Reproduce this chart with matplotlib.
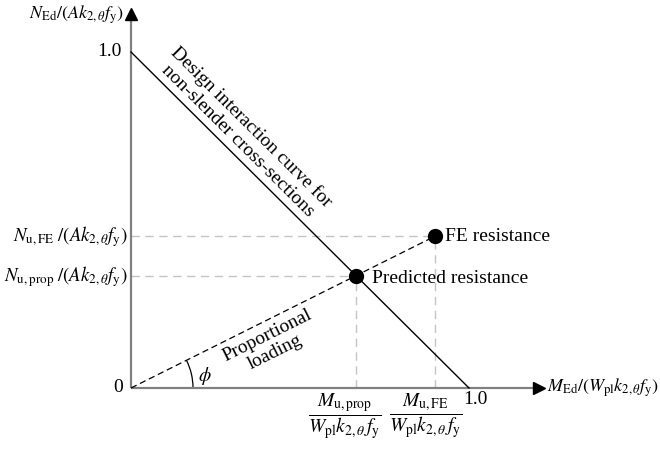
import matplotlib
matplotlib.use("Agg")
import matplotlib.pyplot as plt
from matplotlib.patches import Arc
import numpy as np

plt.rcParams['font.family'] = ['Liberation Serif', 'DejaVu Serif']
plt.rcParams['mathtext.fontset'] = 'stix'

# Data (normalised resistance values)
design_x = [0.0, 1.0]
design_y = [1.0, 0.0]
predicted = (0.665, 0.333)
fe_point = (0.90, 0.452)
labels_points = ["Predicted resistance", "FE resistance"]
y_ticks = [0.0, 1.0]
x_ticks = [1.0]

fig = plt.figure(figsize=(6.6, 4.54), dpi=100)
ax = fig.add_axes([0, 0, 1, 1])
sx, sy = 338.0, 336.0
ox, oy = 131.0, 388.0
ax.set_xlim(-ox / sx, (660 - ox) / sx)
ax.set_ylim(-(454 - oy) / sy, oy / sy)
ax.axis('off')

def px(x):
    return (x - ox) / sx

def py(y):
    return (oy - y) / sy

# Axes with arrows
ax.plot([0, 0], [0, py(18)], color='#808080', lw=1.6, solid_capstyle='butt', zorder=2)
ax.plot([0, px(536)], [0, 0], color='#808080', lw=1.6, solid_capstyle='butt', zorder=2)
ax.plot([0], [py(14)], marker='^', color='black', markersize=9, zorder=3)
ax.plot([px(539)], [0], marker='>', color='black', markersize=9, zorder=3)

# Design interaction line
ax.plot(design_x, design_y, color='black', lw=1.0, zorder=3)

# Guide lines
gcol = '#c4c4c4'
for (xx, yy) in [predicted, fe_point]:
    ax.plot([0, xx], [yy, yy], color=gcol, lw=1.0, ls=(0, (6, 4)), zorder=1)
    ax.plot([xx, xx], [0, yy], color=gcol, lw=1.0, ls=(0, (6, 4)), zorder=1)

# Proportional loading line
ax.plot([0, fe_point[0]], [0, fe_point[1]], color='black', lw=0.9, ls=(0, (5, 3)), zorder=3)

# Points
ax.plot([predicted[0], fe_point[0]], [predicted[1], fe_point[1]], 'o', color='black',
        markersize=10, zorder=4)

fs = 14
ax.text(px(372), predicted[1] - 0.006, labels_points[0], fontsize=fs,
        va='center', ha='left')
ax.text(px(445), fe_point[1], labels_points[1], fontsize=fs,
        va='center', ha='left')

# Tick labels
ax.text(px(122), y_ticks[1], '1.0', fontsize=fs, ha='right', va='center')
ax.text(px(123), y_ticks[0], '0', fontsize=fs, ha='right', va='center')
ax.text(px(463), py(399), '1.0', fontsize=fs, ha='left', va='center')

# Axis titles
ax.text(px(124), py(15), r'$N_{\mathrm{Ed}}/(Ak_{2,\theta}f_{\mathrm{y}})$',
        fontsize=13, ha='right', va='center')
ax.text(px(547), 0, r'$M_{\mathrm{Ed}}/(W_{\mathrm{pl}}k_{2,\theta}f_{\mathrm{y}})$',
        fontsize=13, ha='left', va='center')

ax.text(px(128), fe_point[1], r'$N_{\mathrm{u,FE}}\;/(Ak_{2,\theta}f_{\mathrm{y}})$',
        fontsize=13.5, ha='right', va='center')
ax.text(px(128), predicted[1], r'$N_{\mathrm{u,prop}}\;/(Ak_{2,\theta}f_{\mathrm{y}})$',
        fontsize=13.5, ha='right', va='center')

ax.text(px(345), py(416),
        r'$\dfrac{M_{\mathrm{u,prop}}}{W_{\mathrm{pl}}k_{2,\theta}\,f_{\mathrm{y}}}$',
        fontsize=fs, ha='center', va='center')
ax.text(px(426), py(416),
        r'$\dfrac{M_{\mathrm{u,FE}}}{W_{\mathrm{pl}}k_{2,\theta}\,f_{\mathrm{y}}}$',
        fontsize=fs, ha='center', va='center')

# Rotated annotations
ang_design = -np.degrees(np.arctan2(sy, sx))
ax.text(px(245), py(134),
        'Design interaction curve for\nnon-slender cross-sections',
        fontsize=fs, ha='center', va='center', rotation=ang_design,
        rotation_mode='anchor', linespacing=1.15)
ang_prop = np.degrees(np.arctan2(fe_point[1] * sy, fe_point[0] * sx))
ax.text(px(271), py(344),
        'Proportional\nloading', fontsize=fs, ha='center', va='center',
        rotation=ang_prop, rotation_mode='anchor', linespacing=1.15)

# Angle arc
r = 62
ax.add_patch(Arc((0, 0), 2 * r / sx, 2 * r / sy, theta1=0, theta2=ang_prop,
                 color='black', lw=0.9))
ax.text(px(205), py(376), r'$\phi$', fontsize=fs, ha='center', va='center')

fig.savefig('out.png', dpi=100)
